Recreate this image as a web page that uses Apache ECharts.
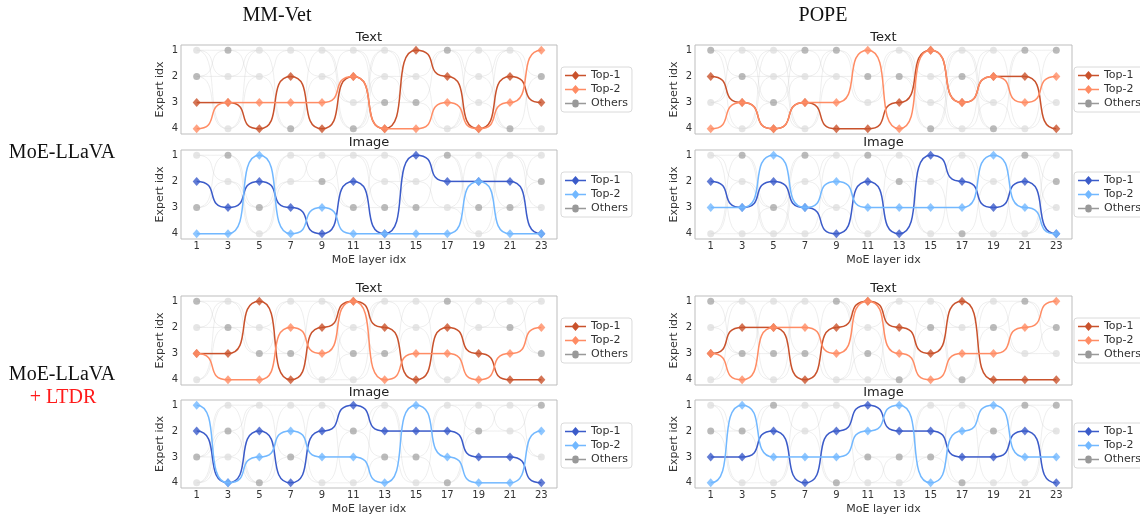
<!DOCTYPE html>
<html>
<head>
<meta charset="utf-8">
<script src="https://cdn.jsdelivr.net/npm/echarts@6/dist/echarts.min.js"></script>
<style>
  html, body { margin: 0; background: #fff; }
  #main { width: 1140px; height: 516px; }
</style>
</head>
<body>
<div id="main"></div>
<script>
// MoE layer indices (x axis)
const layers = ['1', '3', '5', '7', '9', '11', '13', '15', '17', '19', '21', '23'];
const expertTicks = [1, 2, 3, 4];

// MoE-LLaVA, MM-Vet
const vetText1 = [3, 3, 4, 2, 4, 2, 4, 1, 2, 4, 2, 3];
const vetText2 = [4, 3, 3, 3, 3, 2, 4, 4, 3, 4, 3, 1];
const vetText3 = [2, 1, 0, 4, 0, 4, 3, 3, 1, 0, 4, 2];   // darker "other" dot, 0 = none
const vetImage1 = [2, 3, 2, 3, 4, 2, 4, 1, 2, 2, 2, 4];
const vetImage2 = [4, 4, 1, 4, 3, 4, 4, 4, 4, 2, 4, 4];
const vetImage3 = [3, 1, 3, 0, 2, 3, 3, 3, 1, 3, 3, 2];
// MoE-LLaVA, POPE
const popeText1 = [2, 3, 4, 3, 4, 4, 3, 1, 3, 2, 2, 4];
const popeText2 = [4, 3, 4, 3, 3, 1, 4, 1, 3, 2, 3, 2];
const popeText3 = [1, 2, 3, 1, 1, 2, 2, 4, 2, 4, 1, 1];
const popeImage1 = [2, 3, 2, 3, 4, 2, 4, 1, 2, 3, 2, 4];
const popeImage2 = [3, 3, 1, 3, 2, 3, 3, 3, 3, 1, 3, 4];
const popeImage3 = [0, 1, 3, 1, 0, 1, 2, 0, 4, 0, 1, 2];
// MoE-LLaVA + LTDR, MM-Vet
const ltdrVetText1 = [3, 3, 1, 4, 2, 1, 2, 4, 2, 3, 4, 4];
const ltdrVetText2 = [3, 4, 4, 2, 3, 1, 4, 3, 3, 4, 3, 2];
const ltdrVetText3 = [1, 2, 3, 3, 0, 3, 3, 0, 1, 0, 2, 3];
const ltdrVetImage1 = [2, 4, 2, 4, 2, 1, 2, 2, 2, 3, 3, 4];
const ltdrVetImage2 = [1, 4, 3, 2, 3, 3, 4, 1, 3, 4, 4, 2];
const ltdrVetImage3 = [3, 2, 4, 3, 0, 2, 3, 3, 4, 2, 0, 1];
// MoE-LLaVA + LTDR, POPE
const ltdrPopeText1 = [3, 2, 2, 4, 2, 1, 2, 3, 1, 4, 4, 4];
const ltdrPopeText2 = [3, 4, 2, 2, 3, 1, 3, 4, 3, 3, 2, 1];
const ltdrPopeText3 = [1, 3, 3, 3, 1, 3, 4, 2, 4, 2, 1, 2];
const ltdrPopeImage1 = [3, 3, 2, 4, 2, 1, 2, 2, 3, 3, 2, 4];
const ltdrPopeImage2 = [4, 1, 3, 3, 3, 2, 1, 4, 2, 1, 3, 3];
const ltdrPopeImage3 = [2, 2, 1, 0, 4, 3, 3, 3, 4, 2, 1, 1];

const colors = {
  text: ['#c9522c', '#ff8c64'],
  image: ['#3b5bc9', '#72b8ff']
};
const otherDark = '#a9a9a9', otherLight = '#dedede', otherLegend = '#808080';
const font = 'DejaVu Sans';

const diamondIcon = 'path://M0,3.7H7.2L10.5,0L13.8,3.7H21V5.3H13.8L10.5,9L7.2,5.3H0Z';
const circleIcon = 'path://M0,3.7H7.3A3.2,3.2 0 0 1 13.7,3.7H21V5.3H13.7A3.2,3.2 0 0 1 7.3,5.3H0Z';

const colLeft = [181, 695], colWidth = [376, 377], legendLeft = [561, 1074];
const rowTop = [45, 150, 296, 400], legendTop = [67, 172, 318, 423];

const panels = [
  { col: 0, row: 0, kind: 'text', title: 'Text', d: [vetText1, vetText2, vetText3] },
  { col: 0, row: 1, kind: 'image', title: 'Image', d: [vetImage1, vetImage2, vetImage3] },
  { col: 1, row: 0, kind: 'text', title: 'Text', d: [popeText1, popeText2, popeText3] },
  { col: 1, row: 1, kind: 'image', title: 'Image', d: [popeImage1, popeImage2, popeImage3] },
  { col: 0, row: 2, kind: 'text', title: 'Text', d: [ltdrVetText1, ltdrVetText2, ltdrVetText3] },
  { col: 0, row: 3, kind: 'image', title: 'Image', d: [ltdrVetImage1, ltdrVetImage2, ltdrVetImage3] },
  { col: 1, row: 2, kind: 'text', title: 'Text', d: [ltdrPopeText1, ltdrPopeText2, ltdrPopeText3] },
  { col: 1, row: 3, kind: 'image', title: 'Image', d: [ltdrPopeImage1, ltdrPopeImage2, ltdrPopeImage3] }
];

// s-shaped link between layer i and i+1
function curveRenderer(color, width, opacity) {
  return function (params, api) {
    const p0 = api.coord([api.value(0), api.value(1)]);
    const p1 = api.coord([api.value(0) + 1, api.value(2)]);
    const dx = p1[0] - p0[0], k = 0.8;
    return {
      type: 'bezierCurve',
      shape: {
        x1: p0[0], y1: p0[1], x2: p1[0], y2: p1[1],
        cpx1: p0[0] + k * dx, cpy1: p0[1], cpx2: p1[0] - k * dx, cpy2: p1[1]
      },
      style: { stroke: color, fill: 'none', lineWidth: width, opacity: opacity }
    };
  };
}

function othersAt(top1, top2, i) {
  return expertTicks.filter(e => e !== top1[i] && e !== top2[i]);
}

const grid = [], xAxis = [], yAxis = [], series = [], legend = [], graphic = [];

panels.forEach((p, k) => {
  const left = colLeft[p.col], width = colWidth[p.col], top = rowTop[p.row];
  const bottomRow = p.row % 2 === 1;
  const [top1, top2, top3] = p.d;
  const [c1, c2] = colors[p.kind];

  grid.push({ left: left, top: top, width: width, height: 89, show: true, borderColor: '#bdbdbd', borderWidth: 1 });
  xAxis.push({
    type: 'category', gridIndex: k, data: layers, boundaryGap: true,
    axisLine: { show: false }, axisTick: { show: false }, splitLine: { show: false },
    axisLabel: { show: bottomRow, fontSize: 10, color: '#333', margin: 2, fontFamily: font },
    name: bottomRow ? 'MoE layer idx' : '', nameLocation: 'middle', nameGap: 16,
    nameTextStyle: { fontSize: 11, color: '#333', fontFamily: font }
  });
  yAxis.push({
    type: 'value', gridIndex: k, inverse: true, min: 0.8, max: 4.2,
    axisLine: { show: false }, axisTick: { show: false }, splitLine: { show: false },
    axisLabel: { customValues: expertTicks, fontSize: 10, color: '#333', margin: 3, fontFamily: font },
    name: 'Expert idx', nameLocation: 'middle', nameGap: 15,
    nameTextStyle: { fontSize: 11, color: '#333', fontFamily: font }
  });

  // faint connections between the remaining experts
  const links = [], otherDots = [];
  layers.forEach((l, i) => {
    const here = othersAt(top1, top2, i);
    here.forEach(e => otherDots.push({ value: [i, e], itemStyle: { color: e === top3[i] ? otherDark : otherLight } }));
    if (i < layers.length - 1) {
      const next = othersAt(top1, top2, i + 1);
      here.forEach(a => next.forEach(b => links.push([i, a, b])));
    }
  });
  series.push({
    type: 'custom', name: 'links#' + k, xAxisIndex: k, yAxisIndex: k, silent: true,
    renderItem: curveRenderer('#c8c8c8', 1, 0.3), data: links, z: 1
  });
  series.push({
    type: 'scatter', name: 'Others#' + k, xAxisIndex: k, yAxisIndex: k, symbol: 'circle', symbolSize: 7,
    itemStyle: { color: otherLegend }, data: otherDots, z: 2
  });

  [[top1, c1, 'Top-1#' + k], [top2, c2, 'Top-2#' + k]].forEach(([vals, c, name], j) => {
    const segs = vals.slice(0, -1).map((v, i) => [i, v, vals[i + 1]]);
    series.push({
      type: 'custom', name: name, xAxisIndex: k, yAxisIndex: k, itemStyle: { color: c },
      renderItem: curveRenderer(c, 1.5, 1), data: segs, z: 3 + j * 2
    });
    series.push({
      type: 'scatter', name: name, xAxisIndex: k, yAxisIndex: k, symbol: 'diamond', symbolSize: [8, 9],
      itemStyle: { color: c }, data: vals.map((v, i) => [i, v]), z: 4 + j * 2
    });
  });

  legend.push({
    orient: 'vertical', left: legendLeft[p.col], top: legendTop[p.row], selectedMode: false,
    data: [
      { name: 'Top-1#' + k, icon: diamondIcon },
      { name: 'Top-2#' + k, icon: diamondIcon },
      { name: 'Others#' + k, icon: circleIcon }
    ],
    formatter: n => n.split('#')[0],
    itemWidth: 21, itemHeight: 9, itemGap: 3,
    textStyle: { fontSize: 11, color: '#333', fontFamily: font },
    borderColor: '#dadada', borderWidth: 1, borderRadius: 3, padding: [3, 4, 3, 4]
  });

  graphic.push({
    type: 'text', x: left + width / 2, y: top - 7,
    style: { text: p.title, fontSize: 13, fontFamily: font, fill: '#222', align: 'center', verticalAlign: 'middle' }
  });
});

const serif = 'Liberation Serif';
graphic.push(
  { type: 'text', x: 277, y: 16, style: { text: 'MM-Vet', fontSize: 20, fontFamily: serif, fill: '#111', align: 'center', verticalAlign: 'middle' } },
  { type: 'text', x: 823, y: 16, style: { text: 'POPE', fontSize: 20, fontFamily: serif, fill: '#111', align: 'center', verticalAlign: 'middle' } },
  { type: 'text', x: 62, y: 153, style: { text: 'MoE-LLaVA', fontSize: 20, fontFamily: serif, fill: '#111', align: 'center', verticalAlign: 'middle' } },
  { type: 'text', x: 62, y: 375, style: { text: 'MoE-LLaVA', fontSize: 20, fontFamily: serif, fill: '#111', align: 'center', verticalAlign: 'middle' } },
  { type: 'text', x: 63, y: 398, style: { text: '+ LTDR', fontSize: 20, fontFamily: serif, fill: '#ff1a1a', align: 'center', verticalAlign: 'middle' } }
);

const chart = echarts.init(document.getElementById('main'), null, { renderer: 'canvas' });
chart.setOption({
  animation: false,
  backgroundColor: '#fff',
  grid: grid,
  xAxis: xAxis,
  yAxis: yAxis,
  legend: legend,
  graphic: graphic,
  series: series
});
</script>
</body>
</html>
